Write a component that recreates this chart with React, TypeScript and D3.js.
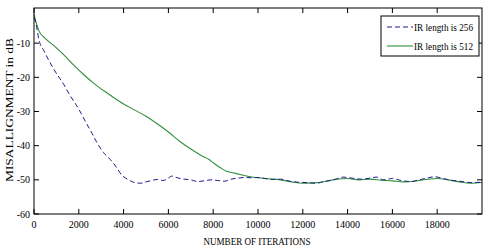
import React from "react";
import * as d3 from "d3";

const xTicks = [0, 2000, 4000, 6000, 8000, 10000, 12000, 14000, 16000, 18000];
const yTicks = [-60, -50, -40, -30, -20, -10];
const seriesNames = ["IR length is 256", "IR length is 512"];

const iter256 = [0, 80, 220, 450, 900, 1340, 1600, 2000, 2300, 2600, 2800, 3100, 3400, 3700, 3900, 4100, 4300, 4500, 4750, 5000, 5250, 5500, 5750, 6000, 6150, 6400, 6700, 7000, 7300, 7600, 7900, 8200, 8500, 8800, 9100, 9400, 9700, 10000, 10300, 10700, 11000, 11400, 11800, 12200, 12600, 13000, 13400, 13800, 14200, 14600, 15000, 15300, 15600, 16000, 16400, 16800, 17200, 17600, 17900, 18200, 18600, 19000, 19500, 20000];
const mis256 = [-2.5, -4, -9, -12.3, -17.8, -22.2, -25.2, -29.3, -33, -36.5, -39, -42, -44, -46.5, -48.5, -49.5, -50.3, -50.8, -51, -50.6, -50.2, -49.9, -50.2, -49.5, -48.9, -49.4, -49.8, -50, -50.5, -50.3, -50, -50.2, -50.4, -49.8, -49.5, -49.3, -49.4, -49.3, -49.6, -49.9, -49.8, -50.4, -50.7, -50.8, -51, -50.4, -50, -49.2, -49.5, -49.8, -49.5, -49.2, -50, -49.6, -50.2, -50.5, -50, -49.4, -49.1, -49.5, -50.1, -50.4, -50.8, -50.7];

const iter512 = [0, 75, 220, 500, 900, 1300, 1800, 2200, 2700, 3200, 3600, 4000, 4500, 5000, 5500, 6000, 6500, 7000, 7500, 7800, 8000, 8400, 8600, 9000, 9600, 10000, 10500, 11000, 11500, 12000, 12500, 13000, 13500, 14000, 14500, 15000, 15500, 16000, 16500, 17000, 17500, 18000, 18500, 19000, 19500, 20000];
const mis512 = [-1.5, -3.5, -6.4, -8.6, -10.8, -13.2, -16.6, -19.1, -21.9, -24.3, -26.1, -27.8, -29.6, -31.4, -33.6, -36, -38.7, -41, -43, -44, -45, -46.8, -47.5, -48.1, -49, -49.4, -49.7, -50, -50.6, -51, -50.9, -50.5, -49.8, -49.6, -50, -49.8, -50.1, -50.3, -50.6, -50.4, -49.9, -49.6, -50, -50.6, -51, -50.8];

const W = 496, H = 249;
const left = 34, right = 482, top = 8, bottom = 214;
const font = "'Liberation Serif', 'DejaVu Serif', serif";

export default function App() {
  const x = d3.scaleLinear().domain([0, 20000]).range([left, right]);
  const y = d3.scaleLinear().domain([-60, 0]).range([bottom, top + 1]);
  const line = d3.line<[number, number]>().x(d => x(d[0])).y(d => y(d[1])).curve(d3.curveMonotoneX);
  const d256 = line(iter256.map((v, i) => [v, mis256[i]] as [number, number])) || "";
  const d512 = line(iter512.map((v, i) => [v, mis512[i]] as [number, number])) || "";
  const blue = "#1c1c8a";
  const green = "#2f8f3a";
  const tl = 5;
  return (
    <svg width={W} height={H} style={{ position: "absolute", left: 0, top: 0, background: "#fff" }}>
      <rect x={0} y={0} width={W} height={H} fill="#fff" />
      <path d={d512} fill="none" stroke={green} strokeWidth={1.1} />
      <path d={d256} fill="none" stroke={blue} strokeWidth={1} strokeDasharray="5,3" />
      <rect x={left} y={top} width={right - left} height={bottom - top} fill="none" stroke="#000" strokeWidth={1} />
      {xTicks.map(t => (
        <g key={"x" + t}>
          <line x1={x(t)} x2={x(t)} y1={bottom} y2={bottom - tl} stroke="#000" />
          <line x1={x(t)} x2={x(t)} y1={top} y2={top + tl} stroke="#000" />
          <text x={x(t)} y={228} textAnchor="middle" fontFamily={font} fontSize={10}>{t}</text>
        </g>
      ))}
      {yTicks.map(t => (
        <g key={"y" + t}>
          <line x1={left} x2={left + tl} y1={y(t)} y2={y(t)} stroke="#000" />
          <line x1={right} x2={right - tl} y1={y(t)} y2={y(t)} stroke="#000" />
          <text x={30} y={y(t) + 3.5} textAnchor="end" fontFamily={font} fontSize={10}>{t}</text>
        </g>
      ))}
      <text x={257} y={245} textAnchor="middle" fontFamily={font} fontSize={11} textLength={107} lengthAdjust="spacingAndGlyphs">NUMBER OF ITERATIONS</text>
      <text transform="translate(13,110) rotate(-90)" textAnchor="middle" fontFamily={font} fontSize={11} textLength={144} lengthAdjust="spacingAndGlyphs">MISALLIGNMENT in dB</text>
      <rect x={381} y={16} width={98} height={40} fill="#fff" stroke="#000" />
      <line x1={387} x2={413} y1={27} y2={27} stroke={blue} strokeDasharray="5,3" />
      <line x1={387} x2={413} y1={46} y2={46} stroke={green} strokeWidth={1.1} />
      <text x={414} y={30.5} fontFamily={font} fontSize={10} textLength={59} lengthAdjust="spacingAndGlyphs">{seriesNames[0]}</text>
      <text x={414} y={49.5} fontFamily={font} fontSize={10} textLength={59} lengthAdjust="spacingAndGlyphs">{seriesNames[1]}</text>
    </svg>
  );
}
